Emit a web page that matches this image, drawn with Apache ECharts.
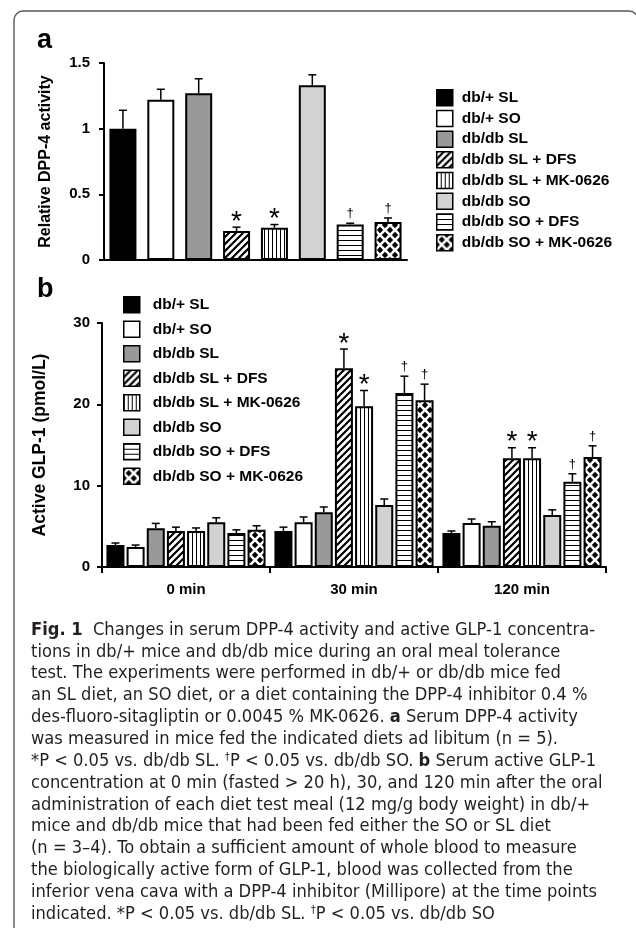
<!DOCTYPE html>
<html>
<head>
<meta charset="utf-8">
<script src="https://cdn.jsdelivr.net/npm/echarts@6/dist/echarts.min.js"></script>
<style>
html,body{margin:0;padding:0;background:#fff;}
#chart{width:636px;height:928px;}
</style>
</head>
<body>
<div id="chart"></div>
<script>
// ---------- data ----------
const groupNames = ['db/+ SL', 'db/+ SO', 'db/db SL', 'db/db SL + DFS', 'db/db SL + MK-0626', 'db/db SO', 'db/db SO + DFS', 'db/db SO + MK-0626'];

// panel a: relative DPP-4 activity
const dppMean = [1.00, 1.22, 1.27, 0.22, 0.245, 1.33, 0.27, 0.29];
const dppErr  = [0.14, 0.08, 0.11, 0.03, 0.025, 0.08, 0.01, 0.03];
const dppMarks = ['', '', '', '*', '*', '', '†', '†'];
const dppTicks = [0, 0.5, 1, 1.5];

// panel b: active GLP-1 (pmol/L) at 0, 30, 120 min
const timeLabels = ['0 min', '30 min', '120 min'];
const glpDbPlusSL      = [2.70, 4.43, 4.18];
const glpDbPlusSO      = [2.46, 5.50, 5.41];
const glpDbDbSL        = [4.77, 6.74, 5.07];
const glpDbDbSLDFS     = [4.43, 24.45, 13.38];
const glpDbDbSLMK      = [4.43, 19.77, 13.38];
const glpDbDbSO        = [5.50, 7.62, 6.39];
const glpDbDbSODFS     = [4.18, 21.40, 10.48];
const glpDbDbSOMK      = [4.57, 20.50, 13.53];
const glpDbPlusSLErr   = [0.25, 0.47, 0.25];
const glpDbPlusSOErr   = [0.24, 0.65, 0.49];
const glpDbDbSLErr     = [0.59, 0.64, 0.49];
const glpDbDbSLDFSErr  = [0.47, 2.35, 1.28];
const glpDbDbSLMKErr   = [0.37, 1.93, 1.28];
const glpDbDbSOErr     = [0.55, 0.74, 0.64];
const glpDbDbSODFSErr  = [0.39, 2.06, 0.98];
const glpDbDbSOMKErr   = [0.50, 1.98, 1.37];
const glpMarksSLDFS = ['', '*', '*'];
const glpMarksSLMK  = ['', '*', '*'];
const glpMarksSODFS = ['', '†', '†'];
const glpMarksSOMK  = ['', '†', '†'];
const glpTicks = [0, 10, 20, 30];

const captionLines = [
  '{b|Fig. 1}  Changes in serum DPP-4 activity and active GLP-1 concentra-',
  'tions in db/+ mice and db/db mice during an oral meal tolerance',
  'test. The experiments were performed in db/+ or db/db mice fed',
  'an SL diet, an SO diet, or a diet containing the DPP-4 inhibitor 0.4 %',
  'des-fluoro-sitagliptin or 0.0045 % MK-0626. {b|a} Serum DPP-4 activity',
  'was measured in mice fed the indicated diets ad libitum (n = 5).',
  '*P < 0.05 vs. db/db SL. {s|†}P < 0.05 vs. db/db SO. {b|b} Serum active GLP-1',
  'concentration at 0 min (fasted > 20 h), 30, and 120 min after the oral',
  'administration of each diet test meal (12 mg/g body weight) in db/+',
  'mice and db/db mice that had been fed either the SO or SL diet',
  '(n = 3–4). To obtain a sufficient amount of whole blood to measure',
  'the biologically active form of GLP-1, blood was collected from the',
  'inferior vena cava with a DPP-4 inhibitor (Millipore) at the time points',
  'indicated. *P < 0.05 vs. db/db SL. {s|†}P < 0.05 vs. db/db SO'
];

const glpMeans = [glpDbPlusSL, glpDbPlusSO, glpDbDbSL, glpDbDbSLDFS, glpDbDbSLMK, glpDbDbSO, glpDbDbSODFS, glpDbDbSOMK];
const glpErrs = [glpDbPlusSLErr, glpDbPlusSOErr, glpDbDbSLErr, glpDbDbSLDFSErr, glpDbDbSLMKErr, glpDbDbSOErr, glpDbDbSODFSErr, glpDbDbSOMKErr];
const glpMarks = [[], [], [], glpMarksSLDFS, glpMarksSLMK, [], glpMarksSODFS, glpMarksSOMK];

// ---------- styles ----------
const FONT = "'Liberation Sans', Arial, Helvetica, sans-serif";

function fontInstalled(name) {
  const ctx = document.createElement('canvas').getContext('2d');
  const s = 'mmmmmmwwwwwlllliiiiiMMWW 0123456789';
  let same = true;
  ['monospace', 'serif'].forEach(fb => {
    ctx.font = '72px ' + fb;
    const a = ctx.measureText(s).width;
    ctx.font = "72px '" + name + "', " + fb;
    const b = ctx.measureText(s).width;
    if (a !== b) same = false;
  });
  return !same;
}
const capCandidates = ['Liberation Sans Narrow', 'DejaVu Sans Condensed', 'Open Sans Condensed', 'Roboto Condensed', 'Noto Sans', 'Liberation Sans'];
let capName = 'Liberation Sans';
for (const n of capCandidates) { if (fontInstalled(n)) { capName = n; break; } }
const CAP_FONT = "'" + capName + "', 'Liberation Sans', sans-serif";

function pattern(type) {
  const c = document.createElement('canvas');
  const ctx = c.getContext('2d');
  let w = 8, h = 8;
  if (type === 'diag') { w = 7; h = 7; }
  if (type === 'vert') { w = 4; h = 4; }
  if (type === 'horiz') { w = 5; h = 5; }
  if (type === 'diamond') { w = 10; h = 10; }
  c.width = w; c.height = h;
  ctx.fillStyle = '#fff';
  ctx.fillRect(0, 0, w, h);
  ctx.fillStyle = '#000';
  ctx.strokeStyle = '#000';
  if (type === 'diag') {
    ctx.lineWidth = 2.2;
    ctx.beginPath();
    ctx.moveTo(-1, h + 1); ctx.lineTo(w + 1, -1);
    ctx.moveTo(-2, 2); ctx.lineTo(2, -2);
    ctx.moveTo(w - 2, h + 2); ctx.lineTo(w + 2, h - 2);
    ctx.stroke();
  } else if (type === 'vert') {
    ctx.fillRect(0, 0, 1, h);
  } else if (type === 'horiz') {
    ctx.fillRect(0, 0, w, 1);
  } else if (type === 'diamond') {
    const r = 3.2;
    const pts = [[5, 5], [0, 0], [10, 0], [0, 10], [10, 10]];
    pts.forEach(p => {
      ctx.beginPath();
      ctx.moveTo(p[0], p[1] - r); ctx.lineTo(p[0] + r, p[1]);
      ctx.lineTo(p[0], p[1] + r); ctx.lineTo(p[0] - r, p[1]);
      ctx.closePath(); ctx.fill();
    });
  }
  return { image: c, repeat: 'repeat' };
}

const fills = ['#000000', '#ffffff', '#999999', pattern('diag'), pattern('vert'), '#d2d2d2', pattern('horiz'), pattern('diamond')];

// ---------- layout constants ----------
const B_BAR_W = 18;
const B_GAP_PCT = 12;
const B_STEP = B_BAR_W * (1 + B_GAP_PCT / 100);

function markText(mark, x, y) {
  const isStar = mark === '*';
  return { type: 'text', style: { text: mark, x: x, y: y - (isStar ? -9 : 3), align: 'center', verticalAlign: 'bottom', fontSize: isStar ? 28 : 13, fontFamily: FONT, fill: '#000' } };
}

const series = [];
groupNames.forEach((name, i) => {
  series.push({
    type: 'bar', name, xAxisIndex: 0, yAxisIndex: 0,
    data: dppMean.map((v, j) => (j === i ? v : '-')),
    barWidth: 27, barGap: '-100%',
    itemStyle: { color: fills[i], borderColor: '#000', borderWidth: 2 },
    z: 2, silent: true
  });
});
series.push({
  type: 'custom', xAxisIndex: 0, yAxisIndex: 0, z: 4, silent: true,
  data: dppMean.map((m, i) => [i, m, dppErr[i]]),
  encode: { x: 0, y: 1 },
  renderItem: function (params, api) {
    const base = api.coord([api.value(0), api.value(1)]);
    const top = api.coord([api.value(0), api.value(1) + api.value(2)]);
    const mark = dppMarks[params.dataIndex];
    const ch = [
      { type: 'line', shape: { x1: base[0], y1: base[1], x2: top[0], y2: top[1] }, style: { stroke: '#000', lineWidth: 1.5 } },
      { type: 'line', shape: { x1: top[0] - 4, y1: top[1], x2: top[0] + 4, y2: top[1] }, style: { stroke: '#000', lineWidth: 1.5 } }
    ];
    if (mark) ch.push(markText(mark, top[0], top[1]));
    return { type: 'group', children: ch };
  }
});

groupNames.forEach((name, k) => {
  series.push({
    type: 'bar', name, xAxisIndex: 1, yAxisIndex: 1,
    data: glpMeans[k],
    barWidth: B_BAR_W, barGap: B_GAP_PCT + '%',
    itemStyle: { color: fills[k], borderColor: '#000', borderWidth: 2 },
    z: 2, silent: true
  });
});
const glpErrData = [];
glpMeans.forEach((arr, k) => arr.forEach((m, c) => glpErrData.push([c, k, m, glpErrs[k][c]])));
series.push({
  type: 'custom', xAxisIndex: 1, yAxisIndex: 1, z: 4, silent: true,
  data: glpErrData,
  encode: { x: 0, y: 2 },
  renderItem: function (params, api) {
    const c = api.value(0), k = api.value(1), m = api.value(2), e = api.value(3);
    const dx = (k - 3.5) * B_STEP;
    const base = api.coord([c, m]);
    const top = api.coord([c, m + e]);
    const x = base[0] + dx;
    const mark = (glpMarks[k] || [])[c];
    const ch = [
      { type: 'line', shape: { x1: x, y1: base[1], x2: x, y2: top[1] }, style: { stroke: '#000', lineWidth: 1.5 } },
      { type: 'line', shape: { x1: x - 4, y1: top[1], x2: x + 4, y2: top[1] }, style: { stroke: '#000', lineWidth: 1.5 } }
    ];
    if (mark) ch.push(markText(mark, x, top[1]));
    return { type: 'group', children: ch };
  }
});

// caption font fitting
function fitCaptionSize() {
  const ctx = document.createElement('canvas').getContext('2d');
  ctx.font = '100px ' + CAP_FONT;
  const w = ctx.measureText(captionLines[7]).width;
  return 100 * 572 / w;
}
const capSize = fitCaptionSize();

const graphics = [
  { type: 'rect', silent: true, shape: { x: 14, y: 11, width: 624, height: 1000, r: 9 }, style: { fill: 'none', stroke: '#555', lineWidth: 1.4 } },
  { type: 'text', left: 37, top: 27, style: { text: 'a', font: 'bold 27px ' + FONT, fill: '#000' } },
  { type: 'text', left: 37, top: 276, style: { text: 'b', font: 'bold 27px ' + FONT, fill: '#000' } }
];
captionLines.forEach((line, i) => {
  graphics.push({
    type: 'text', silent: true,
    x: 31, y: 630 + i * 21.85,
    style: {
      text: line, fontFamily: CAP_FONT, fontSize: capSize, fill: '#231f20',
      align: 'left', verticalAlign: 'middle',
      rich: {
        b: { fontFamily: CAP_FONT, fontSize: capSize, fontWeight: 'bold', fill: '#231f20' },
        s: { fontFamily: CAP_FONT, fontSize: capSize * 0.62, fill: '#231f20', padding: [0, 0, capSize * 0.45, 0] }
      }
    }
  });
});

const axisLabelStyle = { fontSize: 15, fontWeight: 'bold', color: '#000', fontFamily: FONT };

const option = {
  animation: false,
  backgroundColor: '#ffffff',
  grid: [
    { left: 104, top: 63, width: 303, height: 197 },
    { left: 102, top: 323, width: 504, height: 244 }
  ],
  xAxis: [
    { type: 'category', gridIndex: 0, data: groupNames, axisLine: { lineStyle: { color: '#000', width: 2 } }, axisTick: { show: false }, axisLabel: { show: false } },
    { type: 'category', gridIndex: 1, data: timeLabels, axisLine: { lineStyle: { color: '#000', width: 2 } }, axisTick: { show: true, length: 6, lineStyle: { color: '#000', width: 2 } }, axisLabel: Object.assign({ margin: 15 }, axisLabelStyle) }
  ],
  yAxis: [
    { type: 'value', gridIndex: 0, min: dppTicks[0], max: dppTicks[dppTicks.length - 1], interval: dppTicks[1] - dppTicks[0],
      name: 'Relative DPP-4 activity', nameLocation: 'middle', nameGap: 50,
      nameTextStyle: { fontSize: 16, fontWeight: 'bold', color: '#000', fontFamily: FONT },
      axisLine: { show: true, lineStyle: { color: '#000', width: 2 } }, axisTick: { show: true, length: 5, lineStyle: { color: '#000', width: 2 } },
      axisLabel: Object.assign({ margin: 14 }, axisLabelStyle), splitLine: { show: false } },
    { type: 'value', gridIndex: 1, min: glpTicks[0], max: glpTicks[glpTicks.length - 1], interval: glpTicks[1] - glpTicks[0],
      name: 'Active GLP-1 (pmol/L)', nameLocation: 'middle', nameGap: 53,
      nameTextStyle: { fontSize: 17.5, fontWeight: 'bold', color: '#000', fontFamily: FONT },
      axisLine: { show: true, lineStyle: { color: '#000', width: 2 } }, axisTick: { show: true, length: 5, lineStyle: { color: '#000', width: 2 } },
      axisLabel: Object.assign({ margin: 12 }, axisLabelStyle), splitLine: { show: false } }
  ],
  legend: [
    { data: groupNames, orient: 'vertical', left: 431, top: 84, itemWidth: 16, itemHeight: 16, itemGap: 3.2, icon: 'rect', selectedMode: false,
      textStyle: { fontSize: 15.5, fontWeight: 'bold', color: '#000', fontFamily: FONT, padding: [0, 0, 0, 4] },
      itemStyle: { borderColor: '#000', borderWidth: 1.5 } },
    { data: groupNames, orient: 'vertical', left: 118, top: 291, itemWidth: 16, itemHeight: 16, itemGap: 7.0, icon: 'rect', selectedMode: false,
      textStyle: { fontSize: 15.5, fontWeight: 'bold', color: '#000', fontFamily: FONT, padding: [0, 0, 0, 8] },
      itemStyle: { borderColor: '#000', borderWidth: 1.5 } }
  ],
  series: series,
  graphic: graphics
};

const chart = echarts.init(document.getElementById('chart'), null, { renderer: 'canvas' });
chart.setOption(option);
</script>
</body>
</html>
